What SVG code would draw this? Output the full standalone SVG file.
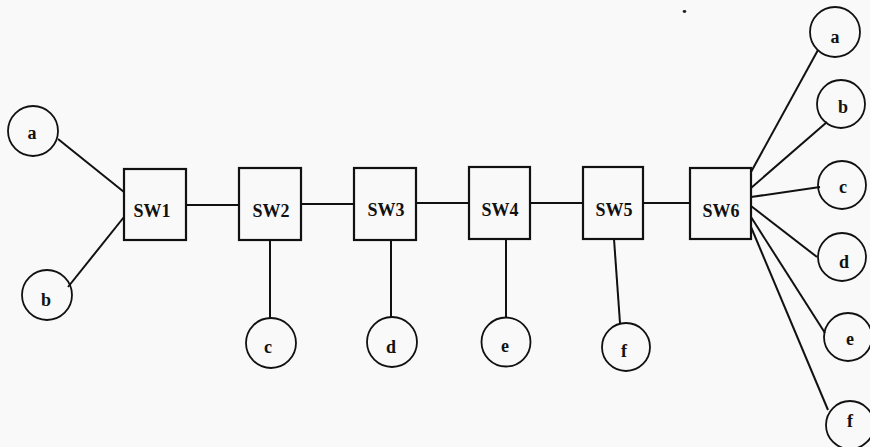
<svg xmlns="http://www.w3.org/2000/svg" width="870" height="447" viewBox="0 0 870 447">
  <style>
    .sw rect { fill: none; stroke: #111; stroke-width: 2.2; }
    .host circle { fill: none; stroke: #111; stroke-width: 1.8; }
    text { font-family: "Liberation Serif", "Times New Roman", serif; font-size: 18px; font-weight: bold; fill: #111; text-anchor: middle; }
    .links line { stroke: #111; stroke-width: 2; }
  </style>
  <rect x="0" y="0" width="870" height="447" fill="#f9f9f9"/>

  <!-- links -->
  <g id="links" class="links">
    <line x1="58" y1="139" x2="124" y2="192"/>
    <line x1="124" y1="217" x2="68" y2="287"/>
    <line x1="186" y1="205" x2="239" y2="205"/>
    <line x1="301" y1="204" x2="354" y2="204"/>
    <line x1="416" y1="203" x2="469" y2="203"/>
    <line x1="530" y1="203" x2="583" y2="203"/>
    <line x1="643" y1="203" x2="691" y2="203"/>
    <line x1="270" y1="240" x2="270" y2="318"/>
    <line x1="391" y1="240" x2="391" y2="317"/>
    <line x1="506" y1="239" x2="506" y2="317"/>
    <line x1="614" y1="239" x2="620" y2="323"/>
    <line x1="751" y1="172" x2="818" y2="50"/>
    <line x1="751" y1="188" x2="827" y2="122"/>
    <line x1="751" y1="197" x2="820" y2="187"/>
    <line x1="751" y1="206" x2="817" y2="257"/>
    <line x1="751" y1="217" x2="825" y2="333"/>
    <line x1="751" y1="227" x2="828" y2="410"/>
  </g>

  <!-- switches -->
  <g id="sw1" class="sw"><rect x="124" y="169" width="62" height="71"/><text x="152" y="217">SW1</text></g>
  <g id="sw2" class="sw"><rect x="239" y="168" width="62" height="72"/><text x="271" y="217">SW2</text></g>
  <g id="sw3" class="sw"><rect x="354" y="168" width="62" height="72"/><text x="386" y="216">SW3</text></g>
  <g id="sw4" class="sw"><rect x="469" y="167" width="61" height="72"/><text x="500" y="216">SW4</text></g>
  <g id="sw5" class="sw"><rect x="583" y="167" width="60" height="72"/><text x="614" y="216">SW5</text></g>
  <g id="sw6" class="sw"><rect x="690" y="168" width="61" height="71"/><text x="721" y="217">SW6</text></g>

  <!-- hosts on the left -->
  <g id="h1a" class="host"><circle cx="33" cy="131" r="25"/><text x="32" y="139">a</text></g>
  <g id="h1b" class="host"><circle cx="47" cy="295" r="25"/><text x="46" y="306">b</text></g>

  <!-- hosts below the chain -->
  <g id="h2c" class="host"><circle cx="271" cy="343" r="25"/><text x="268" y="353">c</text></g>
  <g id="h3d" class="host"><circle cx="392" cy="342" r="25"/><text x="391" y="353">d</text></g>
  <g id="h4e" class="host"><circle cx="506" cy="342" r="24.5"/><text x="505" y="352">e</text></g>
  <g id="h5f" class="host"><circle cx="626" cy="347" r="24"/><text x="624" y="357">f</text></g>

  <!-- hosts fanned out from SW6 -->
  <g id="h6a" class="host"><circle cx="835" cy="32" r="25"/><text x="835" y="43">a</text></g>
  <g id="h6b" class="host"><circle cx="841" cy="104" r="24"/><text x="843" y="113">b</text></g>
  <g id="h6c" class="host"><circle cx="842" cy="185" r="24"/><text x="843" y="193">c</text></g>
  <g id="h6d" class="host"><circle cx="842" cy="257" r="24"/><text x="844" y="268">d</text></g>
  <g id="h6e" class="host"><circle cx="848" cy="337" r="24"/><text x="850" y="345">e</text></g>
  <g id="h6f" class="host"><circle cx="850" cy="425" r="24"/><text x="850" y="427">f</text></g>

  <!-- small speck near the top -->
  <ellipse cx="684.5" cy="11.5" rx="1.8" ry="1.4" fill="#222"/>
</svg>
